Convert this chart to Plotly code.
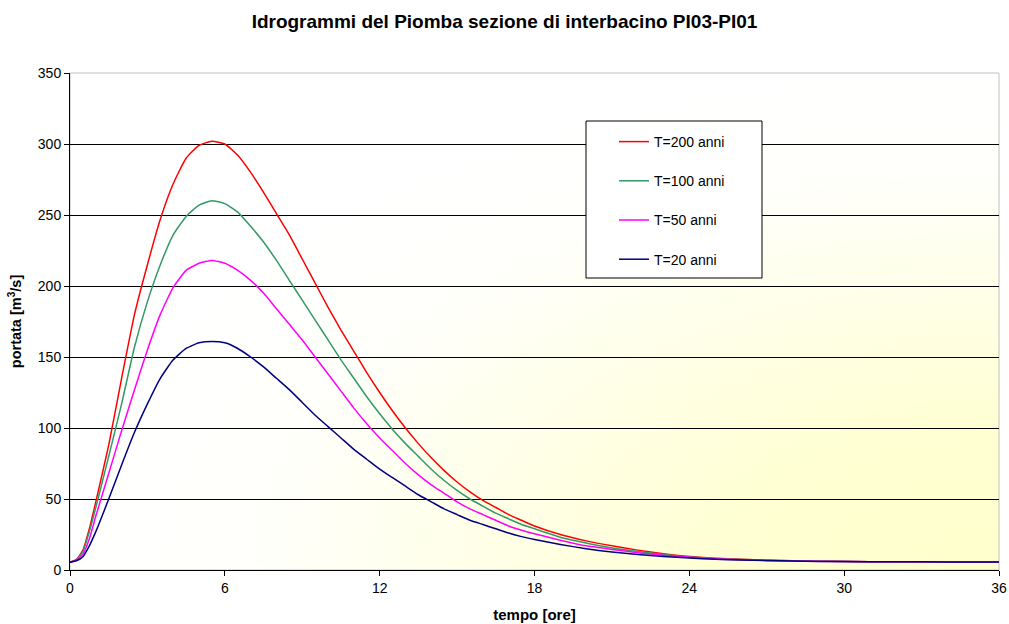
import base64
import plotly.graph_objects as go

# time axis [hours]
tempo = [0, 0.25, 0.5, 0.75, 1.0, 1.5, 2.0, 2.5, 3.0, 3.5, 4.0, 4.5, 5.0, 5.5, 6.0, 6.5,
         7.0, 7.5, 8.0, 8.5, 9.0, 9.5, 10.0, 10.5, 11.0, 11.5, 12.0, 12.5, 13.0, 13.5,
         14.0, 14.5, 15.0, 15.5, 16.0, 16.5, 17.0, 17.5, 18.0, 19, 20, 21, 22, 23, 24,
         25, 26, 27, 28, 29, 30, 32, 34, 36]

q_T200 = [5.5, 7.5, 14, 29, 48, 88, 135, 180, 215, 247, 272, 290, 299, 302, 300, 292,
          280, 266, 251, 236, 219, 202, 185, 169, 154, 139, 125, 112, 100, 89,
          79, 70, 62, 55, 49, 44, 39, 35, 31, 25, 20.5, 17, 14, 11.5, 9.5,
          8.3, 7.5, 7, 6.5, 6.2, 6.0, 5.8, 5.7, 5.6]

q_T100 = [5.5, 7.3, 13, 27, 44, 80, 117, 157, 189, 215, 236, 249, 257, 260, 258, 252,
          242, 231, 218, 204, 190, 176, 162, 148, 135, 122, 110, 99, 89, 80,
          71, 63, 56, 50, 45, 40, 36, 32, 29, 23, 19, 15.5, 13, 11, 9.2,
          8.1, 7.4, 6.9, 6.5, 6.2, 6.0, 5.8, 5.7, 5.6]

q_T50 = [5.5, 7.0, 11, 22, 38, 68, 98, 127, 155, 180, 199, 211, 216, 218, 216, 211,
         204, 195, 184, 173, 162, 150, 138, 126, 114, 103, 93, 84, 75, 67,
         60, 54, 48, 43, 39, 35, 31, 28, 25.5, 21, 17, 14.5, 12.2, 10.3, 9,
         8, 7.3, 6.8, 6.4, 6.1, 5.9, 5.8, 5.7, 5.6]

q_T20 = [5.5, 6.5, 9.4, 17, 27, 50, 74, 97, 117, 135, 148, 156, 160, 161, 160, 156,
         150, 143, 135, 127, 118, 109, 101, 93, 85, 78, 71, 65, 59, 53,
         48, 43, 39, 35, 32, 29, 26, 23.5, 21.5, 18, 15, 12.7, 11, 9.5, 8.4,
         7.6, 7, 6.6, 6.3, 6.0, 5.9, 5.8, 5.7, 5.6]

serie_nomi = ["T=200 anni", "T=100 anni", "T=50 anni", "T=20 anni"]
serie_colori = ["#FF0000", "#339966", "#FF00FF", "#000080"]
serie_valori = [q_T200, q_T100, q_T50, q_T20]

x_ticks = [0, 6, 12, 18, 24, 30, 36]
y_ticks = [0, 50, 100, 150, 200, 250, 300, 350]

FONT = "Arial, 'Liberation Sans', sans-serif"

fig = go.Figure()
for i, (nome, col, val) in enumerate(zip(serie_nomi, serie_colori, serie_valori)):
    fig.add_trace(go.Scatter(x=tempo, y=val, mode="lines", name=nome,
                             legendgroup=f"g{i}",
                             line=dict(color=col, width=1.5, shape="spline",
                                       smoothing=0.5)))

# gradient background (from bottom-right corner)
svg = ('<svg xmlns="http://www.w3.org/2000/svg" width="100" height="100" '
       'viewBox="0 0 100 100" preserveAspectRatio="none">'
       '<defs><radialGradient id="g" cx="1" cy="1" r="1.0" fx="1" fy="1" '
       'gradientUnits="objectBoundingBox">'
       '<stop offset="0" stop-color="#FFFFCC"/>'
       '<stop offset="0.3" stop-color="#FFFFD4"/>'
       '<stop offset="0.8" stop-color="#FFFFFB"/>'
       '<stop offset="1" stop-color="#FFFFFF"/>'
       '</radialGradient></defs>'
       '<rect x="0" y="0" width="100" height="100" fill="url(#g)"/></svg>')
src = "data:image/svg+xml;base64," + base64.b64encode(svg.encode()).decode()

L, R, T, B = 70, 10, 73, 54
W, H = 1009, 624
pw, ph = W - L - R, H - T - B


def px(x):
    return (x - L) / pw


def py(y):
    return (H - B - y) / ph


fig.update_layout(
    width=W, height=H,
    margin=dict(l=L, r=R, t=T, b=B, autoexpand=False),
    paper_bgcolor="white",
    plot_bgcolor="rgba(0,0,0,0)",
    font=dict(family=FONT, size=14, color="black"),
    title=dict(text="<b>Idrogrammi del Piomba sezione di interbacino PI03-PI01</b>",
               x=0.5, xref="container", xanchor="center",
               y=1 - 21 / H, yanchor="middle",
               font=dict(size=19, family=FONT, color="black")),
    images=[dict(source=src, xref="paper", yref="paper", x=0, y=1,
                 sizex=1, sizey=1, xanchor="left", yanchor="top",
                 sizing="stretch", layer="below")],
    shapes=[
        dict(type="rect", xref="paper", yref="paper", x0=0, x1=1, y0=0, y1=1,
             line=dict(color="#C0C0C0", width=1), fillcolor="rgba(0,0,0,0)",
             layer="below"),
        dict(type="rect", xref="paper", yref="paper",
             x0=px(586), x1=px(762), y0=py(278), y1=py(121),
             line=dict(color="black", width=1), fillcolor="white", layer="above"),
    ],
    legend=dict(x=px(614), y=py(126), xanchor="left", yanchor="top",
                bgcolor="rgba(0,0,0,0)", borderwidth=0,
                traceorder="grouped", tracegroupgap=18,
                font=dict(size=14, family=FONT, color="black")),
    showlegend=True,
)

fig.update_xaxes(range=[0, 36], tickvals=x_ticks, ticks="outside", ticklen=5,
                 tickcolor="black", showline=True, linecolor="black", linewidth=1,
                 showgrid=False, zeroline=False, automargin=False,
                 tickfont=dict(size=14),
                 title=dict(text="<b>tempo [ore]</b>", font=dict(size=15), standoff=14))
fig.update_yaxes(range=[0, 350], tickvals=y_ticks, ticks="outside", ticklen=5,
                 tickcolor="black", showline=True, linecolor="black", linewidth=1,
                 showgrid=True, gridcolor="black", gridwidth=1, zeroline=False,
                 automargin=False,
                 tickfont=dict(size=14),
                 title=dict(text="<b>portata [m<sup>3</sup>/s]</b>", font=dict(size=14.5),
                            standoff=12))

fig.write_html("out.html")
